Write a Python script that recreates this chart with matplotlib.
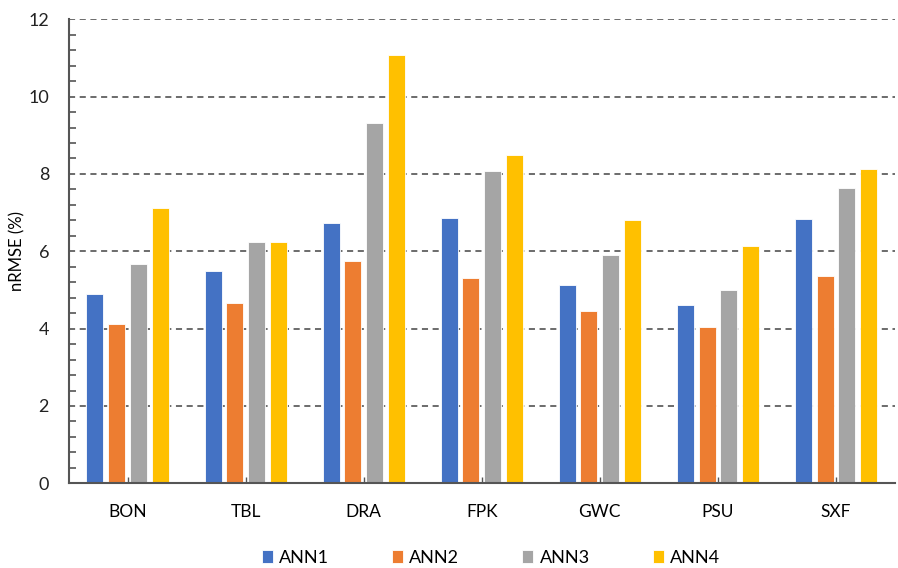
import numpy as np
import matplotlib.pyplot as plt
from matplotlib.ticker import MultipleLocator

# data
stations = ["BON", "TBL", "DRA", "FPK", "GWC", "PSU", "SXF"]
ann1 = [4.89, 5.48, 6.74, 6.87, 5.14, 4.62, 6.83]
ann2 = [4.13, 4.66, 5.76, 5.30, 4.45, 4.03, 5.35]
ann3 = [5.66, 6.24, 9.33, 8.08, 5.90, 5.00, 7.64]
ann4 = [7.13, 6.24, 11.07, 8.48, 6.81, 6.13, 8.13]

series = [("ANN1", ann1, "#4472C4"),
          ("ANN2", ann2, "#ED7D31"),
          ("ANN3", ann3, "#A5A5A5"),
          ("ANN4", ann4, "#FFC000")]

plt.rcParams['font.family'] = ['Lato', 'DejaVu Sans']

fig = plt.figure(figsize=(8.98, 5.68), dpi=100)
ax = fig.add_axes([68.5 / 898, (568 - 483.3) / 568, (895 - 68.5) / 898, (483.3 - 19.3) / 568])

x = np.arange(len(stations))
step = 0.184
width = 0.144
for i, (name, vals, col) in enumerate(series):
    ax.bar(x + (i - 1.5) * step, vals, width, color=col, label=name,
           edgecolor="white", linewidth=0.6, zorder=3)

ax.set_xlim(-0.5, len(stations) - 0.5)
ax.set_ylim(0, 12)
ax.set_xticks(x)
ax.set_xticklabels(stations)
ax.yaxis.set_major_locator(MultipleLocator(2))
ax.yaxis.set_minor_locator(MultipleLocator(0.4))
ax.tick_params(axis="y", which="major", direction="in", length=0, labelsize=13, colors="#222222", pad=14)
ax.tick_params(axis="y", which="minor", direction="in", length=5, width=1.2, color="#555555")
ax.tick_params(axis="x", which="major", direction="in", length=4, width=1, color="#555555",
               labelsize=12.5, pad=15)
ax.set_ylabel("nRMSE (%)", fontsize=12, labelpad=2)

ax.grid(axis="y", linestyle=(0, (4, 3)), color="#444444", linewidth=1.1, zorder=0)
for s in ["top", "right"]:
    ax.spines[s].set_visible(False)
ax.spines["left"].set_color("#555555")
ax.spines["left"].set_linewidth(1.5)
ax.spines["bottom"].set_color("#555555")
ax.spines["bottom"].set_linewidth(1.5)
ax.spines["bottom"].set_zorder(4)

fig.legend(loc="center", bbox_to_anchor=(491 / 898, 1 - 558 / 568), ncol=4, frameon=False,
           fontsize=13, handlelength=0.6, handleheight=0.75, handletextpad=0.35,
           columnspacing=3.5)

fig.savefig("out.png", dpi=100)
